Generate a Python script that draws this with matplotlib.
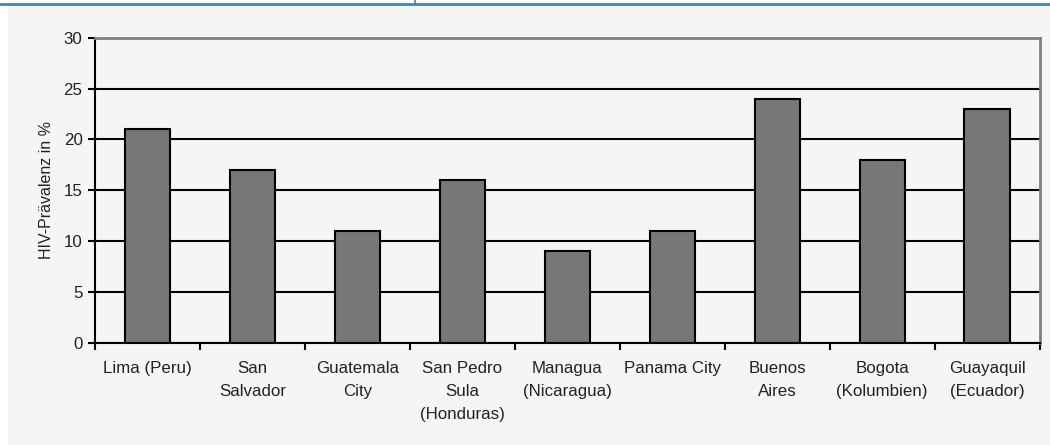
import numpy as np
import matplotlib.pyplot as plt
from matplotlib.lines import Line2D
from matplotlib.patches import Rectangle

staedte = ['Lima (Peru)', 'San\nSalvador', 'Guatemala\nCity', 'San Pedro\nSula\n(Honduras)',
           'Managua\n(Nicaragua)', 'Panama City', 'Buenos\nAires', 'Bogota\n(Kolumbien)',
           'Guayaquil\n(Ecuador)']
praevalenz = [21, 17, 11, 16, 9, 11, 24, 18, 23]
y_ticks = [0, 5, 10, 15, 20, 25, 30]

plt.rcParams['font.family'] = ['Liberation Sans', 'DejaVu Sans']

bg = '#f5f5f5'
fig = plt.figure(figsize=(10.5, 4.45), dpi=100, facecolor=bg)
ax = fig.add_axes([0.0905, 0.230, 0.8995, 0.685])
ax.set_facecolor(bg)

# white strip on the left and the blue rule at the top
fig.patches.append(Rectangle((0, 0), 7 / 1050, 1, transform=fig.transFigure,
                             color='white', zorder=0))
fig.patches.append(Rectangle((0, 1 - 5 / 445), 1, 5 / 445, transform=fig.transFigure,
                             color='white', zorder=0))
fig.add_artist(Line2D([0, 1], [1 - 3.5 / 445, 1 - 3.5 / 445], transform=fig.transFigure,
                      color='#3a86c0', lw=2))
fig.add_artist(Line2D([415 / 1050, 415 / 1050], [1 - 4 / 445, 1], transform=fig.transFigure,
                      color='#3a86c0', lw=1.2))

x = np.arange(len(staedte))
ax.bar(x, praevalenz, width=0.43, color='#777777', edgecolor='black', linewidth=1.5, zorder=3)

ax.set_xlim(-0.5, len(staedte) - 0.5)
ax.set_ylim(0, 30)
ax.set_yticks(y_ticks)
ax.yaxis.grid(True, color='black', linewidth=1.5, zorder=0)
ax.set_axisbelow(True)

ax.set_xticks(np.arange(len(staedte) + 1) - 0.5)
ax.set_xticklabels([])
ax.set_xticks(x, minor=True)
ax.set_xticklabels(staedte, minor=True, fontsize=12.2, linespacing=1.66, va='top',
                   color='#222222')
ax.tick_params(axis='x', which='minor', length=0, pad=13.5)
ax.tick_params(axis='x', which='major', length=5, width=1.5, direction='out')
ax.tick_params(axis='y', length=5, width=1.5, labelsize=12.2, pad=4, labelcolor='#222222')

for s in ['left', 'bottom']:
    ax.spines[s].set_color('black')
    ax.spines[s].set_linewidth(1.5)
for s in ['top', 'right']:
    ax.spines[s].set_color('#808080')
    ax.spines[s].set_linewidth(2)

ax.set_ylabel('HIV-Prävalenz in %', fontsize=11.5, labelpad=7, color='#222222')

fig.savefig('out.png', dpi=100, facecolor=bg)
